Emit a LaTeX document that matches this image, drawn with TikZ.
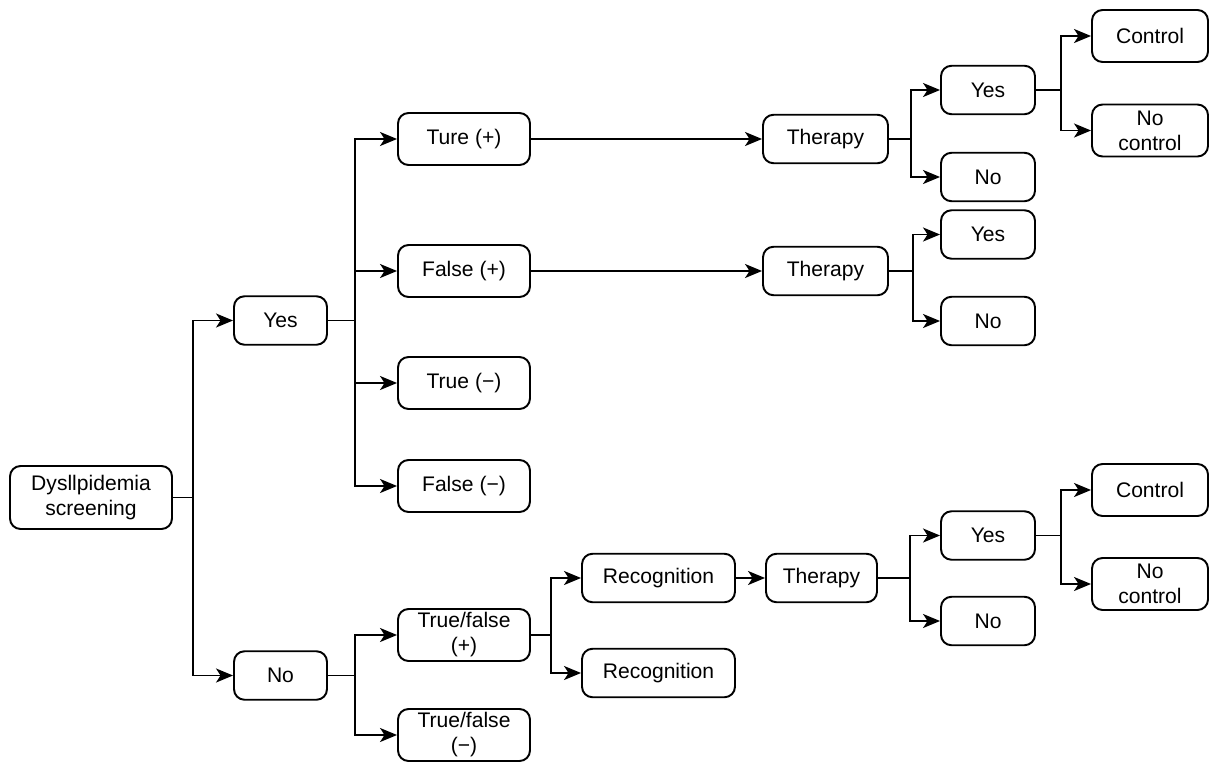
\documentclass[tikz,border=0pt]{standalone}
\usepackage{fontspec}
\setmainfont{Liberation Sans}
\usetikzlibrary{arrows.meta}

\begin{document}
\begin{tikzpicture}[
      x=0.02cm, y=-0.02cm,
      font=\fontsize{12}{14.2}\selectfont,
      box/.style={draw, rounded corners=6pt, line width=1.1pt, inner sep=0pt,
                  align=center, minimum height=0.97cm},
      rootbox/.style={box, minimum width=3.24cm, minimum height=1.26cm},
      splitbox/.style={box, minimum width=1.86cm},
      resultbox/.style={box, minimum width=2.64cm, minimum height=1.04cm},
      therapybox/.style={box, minimum width=2.5cm},
      answerbox/.style={box, minimum width=1.88cm},
      controlbox/.style={box, minimum width=2.32cm, minimum height=1.04cm},
      recogbox/.style={box, minimum width=3.06cm},
      flow/.style={-{Stealth[length=3.4mm, width=2.8mm, inset=0.9mm]}, line width=1.1pt},
      link/.style={line width=1.1pt},
    ]
      \useasboundingbox (0,0) rectangle (1211,764);

      % screening and first split
      \node[rootbox] (screen) at (91,497.5) {Dysllpidemia\\screening};
      \node[splitbox] (yes) at (280.5,320.5) {Yes};
      \node[splitbox] (no) at (280.5,675.5) {No};

      % screening results
      \node[resultbox] (tp) at (464,139) {Ture (+)};
      \node[resultbox] (fp) at (464,271) {False (+)};
      \node[resultbox] (tn) at (464,383) {True (−)};
      \node[resultbox] (fn) at (464,486) {False (−)};
      \node[resultbox] (tfp) at (464,635) {True/false\\(+)};
      \node[resultbox] (tfn) at (464,735) {True/false\\(−)};

      % therapy branches
      \node[therapybox] (thA) at (825.5,139) {Therapy};
      \node[answerbox] (thAyes) at (988,90) {Yes};
      \node[answerbox] (thAno) at (988,177) {No};
      \node[controlbox] (ctlA) at (1150,36) {Control};
      \node[controlbox] (nctlA) at (1150,130.5) {No\\control};

      \node[therapybox] (thB) at (825.5,271) {Therapy};
      \node[answerbox] (thByes) at (988,234.5) {Yes};
      \node[answerbox] (thBno) at (988,321) {No};

      \node[recogbox] (recA) at (658.5,578) {Recognition};
      \node[recogbox] (recB) at (658.5,673) {Recognition};
      \node[therapybox, minimum width=2.22cm] (thC) at (821.5,578) {Therapy};
      \node[answerbox] (thCyes) at (988,535.5) {Yes};
      \node[answerbox] (thCno) at (988,621) {No};
      \node[controlbox] (ctlC) at (1150,490) {Control};
      \node[controlbox] (nctlC) at (1150,584) {No\\control};

      % junctions
      \coordinate (j0) at ([xshift=0.4cm]screen.east);
      \coordinate (j1) at ([xshift=0.54cm]yes.east);
      \coordinate (j2) at ([xshift=0.54cm]no.east);
      \coordinate (j3) at ([xshift=0.4cm]tfp.east);
      \coordinate (j4) at ([xshift=0.44cm]thA.east);
      \coordinate (j5) at ([xshift=0.5cm]thAyes.east);
      \coordinate (j6) at ([xshift=0.48cm]thB.east);
      \coordinate (j7) at ([xshift=0.64cm]thC.east);
      \coordinate (j8) at ([xshift=0.5cm]thCyes.east);

      \draw[link] (screen) -- (j0);
      \draw[flow] (j0) |- (yes);
      \draw[flow] (j0) |- (no);

      \draw[link] (yes) -- (j1);
      \draw[flow] (j1) |- (tp);
      \draw[flow] (j1) |- (fp);
      \draw[flow] (j1) |- (tn);
      \draw[flow] (j1) |- (fn);

      \draw[link] (no) -- (j2);
      \draw[flow] (j2) |- (tfp);
      \draw[flow] (j2) |- (tfn);

      \draw[flow] (tp) -- (thA);
      \draw[flow] (fp) -- (thB);

      \draw[link] (thA) -- (j4);
      \draw[flow] (j4) |- (thAyes);
      \draw[flow] (j4) |- (thAno);
      \draw[link] (thAyes) -- (j5);
      \draw[flow] (j5) |- (ctlA);
      \draw[flow] (j5) |- (nctlA);

      \draw[link] (thB) -- (j6);
      \draw[flow] (j6) |- (thByes);
      \draw[flow] (j6) |- (thBno);

      \draw[link] (tfp) -- (j3);
      \draw[flow] (j3) |- (recA);
      \draw[flow] (j3) |- (recB);
      \draw[flow] (recA) -- (thC);

      \draw[link] (thC) -- (j7);
      \draw[flow] (j7) |- (thCyes);
      \draw[flow] (j7) |- (thCno);
      \draw[link] (thCyes) -- (j8);
      \draw[flow] (j8) |- (ctlC);
      \draw[flow] (j8) |- (nctlC);
    \end{tikzpicture}
\end{document}
